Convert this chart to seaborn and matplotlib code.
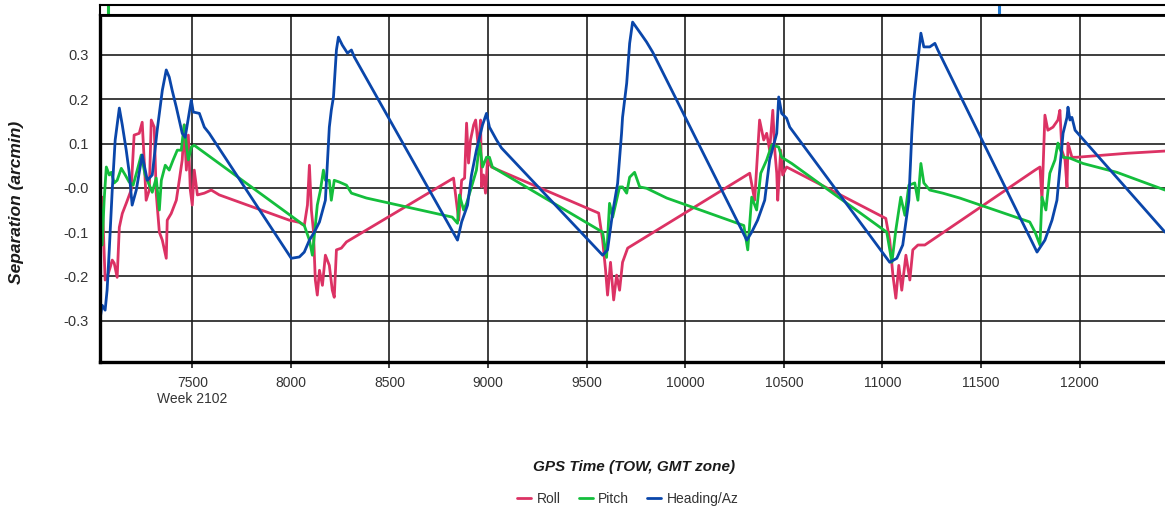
import matplotlib
matplotlib.use('Agg')
import matplotlib.pyplot as plt
import pandas as pd
import seaborn as sns

# values (GPS time of week vs separation in arcmin)
roll_tow = [7028, 7033, 7043, 7058, 7068, 7084, 7094, 7104, 7119, 7130,
            7145, 7165, 7190, 7205, 7231, 7246, 7256, 7266, 7282, 7292,
            7307, 7317, 7333, 7348, 7368, 7373, 7393, 7419, 7434, 7449,
            7459, 7470, 7480, 7490, 7500, 7510, 7526, 7561, 7596, 7637,
            7992,
            8043, 8068, 8084, 8094, 8104, 8114, 8124, 8134, 8145, 8160,
            8175, 8195, 8210, 8220, 8231, 8256, 8282,
            8825, 8851, 8866, 8881, 8891, 8901, 8911, 8927, 8937, 8952,
            8962, 8967, 8977, 8987, 8997, 9017, 9053, 9561,
            9581, 9596, 9606, 9621, 9637, 9652, 9667, 9682, 9708,
            10327, 10352, 10377, 10398, 10413, 10428, 10444, 10454, 10464, 10469,
            10484, 10494, 10514, 11017,
            11037, 11053, 11068, 11083, 11098, 11119, 11139, 11154, 11180, 11215,
            11774, 11799, 11809, 11824, 11839, 11865, 11890, 11900, 11910, 11926,
            11936, 11941, 11961, 11987, 12241, 12433]
roll_sep = [0.085, -0.028, -0.021, -0.208, -0.202, -0.179, -0.163, -0.170, -0.202, -0.089,
            -0.058, -0.035, -0.005, 0.119, 0.123, 0.148, 0.063, -0.028, -0.005, 0.153,
            0.137, -0.012, -0.100, -0.118, -0.159, -0.073, -0.058, -0.028, 0.017, 0.063,
            0.142, 0.040, 0.119, -0.005, -0.039, 0.040, -0.016, -0.012, -0.005, -0.016,
            -0.073,
            -0.078, -0.085, -0.039, 0.051, -0.050, -0.095, -0.208, -0.242, -0.186, -0.220,
            -0.152, -0.175, -0.231, -0.247, -0.140, -0.136, -0.122,
            0.022, -0.073, 0.017, 0.022, 0.146, 0.056, 0.108, 0.142, 0.153, 0.085,
            0.153, 0.002, 0.029, -0.012, 0.063, 0.047, 0.040, -0.057,
            -0.118, -0.186, -0.242, -0.168, -0.253, -0.197, -0.231, -0.168, -0.136,
            0.033, -0.028, 0.153, 0.108, 0.123, 0.085, 0.175, 0.085, 0.033, -0.028,
            0.085, 0.029, 0.047, -0.069,
            -0.118, -0.197, -0.249, -0.175, -0.231, -0.152, -0.208, -0.140, -0.129, -0.129,
            0.040, 0.047, -0.028, 0.164, 0.130, 0.137, 0.153, 0.175, 0.085, 0.063,
            0.002, 0.101, 0.069, 0.069, 0.078, 0.083]

pitch_tow = [7028, 7033, 7043, 7053, 7064, 7079, 7089, 7104, 7119, 7140,
             7160, 7180, 7200, 7221, 7241, 7261, 7282, 7297, 7317, 7333,
             7343, 7363, 7383, 7403, 7424, 7444, 7459, 7470, 7480, 7495,
             7510,
             8068, 8094, 8109, 8124, 8134, 8150, 8165, 8175, 8195, 8205,
             8220, 8246, 8282, 8307, 8383,
             8818, 8845, 8855, 8876, 8891, 8916, 8941, 8957, 8972, 8992,
             9007, 9022,
             9581, 9601, 9616, 9632, 9667, 9682, 9703, 9718, 9743, 9769,
             9804, 9906,
             10297, 10317, 10337, 10362, 10383, 10413, 10439, 10474, 10489, 10540,
             11022, 11048, 11068, 11093, 11114, 11134, 11164, 11180, 11195, 11210,
             11240, 11306, 11392,
             11747, 11774, 11799, 11809, 11829, 11849, 11875, 11890, 11916, 11951,
             12017, 12189, 12433]
pitch_sep = [-0.197, -0.005, -0.129, -0.028, 0.047, 0.029, 0.035, 0.011, 0.017, 0.044,
             0.029, 0.013, 0.006, 0.040, 0.074, 0.029, 0.006, -0.010, 0.022, -0.050,
             0.017, 0.051, 0.040, 0.063, 0.085, 0.085, 0.142, 0.096, 0.063, 0.092,
             0.096,
             -0.085, -0.118, -0.152, -0.085, -0.039, -0.005, 0.040, 0.017, 0.017, -0.028,
             0.017, 0.013, 0.006, -0.012, -0.023,
             -0.066, -0.080, -0.016, -0.050, -0.035, 0.002, 0.040, 0.101, 0.047, 0.069,
             0.069, 0.047,
             -0.100, -0.157, -0.035, -0.066, 0.002, 0.002, -0.012, 0.024, 0.035, 0.002,
             -0.001, -0.023,
             -0.085, -0.140, -0.021, -0.050, 0.033, 0.063, 0.097, 0.092, 0.069, 0.055,
             -0.100, -0.168, -0.095, -0.021, -0.062, 0.006, 0.011, -0.028, 0.055, 0.011,
             -0.005, -0.012, -0.023,
             -0.077, -0.100, -0.129, -0.021, -0.050, 0.033, 0.063, 0.101, 0.069, 0.067,
             0.055, 0.035, -0.005]

heading_tow = [7028, 7033, 7043, 7058, 7068, 7079, 7094, 7109, 7130, 7145,
               7165, 7180, 7195, 7216, 7246, 7272, 7297, 7322, 7348, 7368,
               7383, 7398, 7419, 7449, 7464, 7495, 7505, 7536, 7561, 7586,
               8002, 8043, 8068, 8094, 8119, 8145, 8175, 8195, 8205, 8216,
               8231, 8241, 8261, 8287, 8307, 8322,
               8845, 8866, 8896, 8916, 8941, 8972, 8992, 9007, 9043, 9068,
               9581, 9606, 9632, 9657, 9677, 9682, 9703, 9718, 9733, 9779,
               9804, 9835,
               10312, 10337, 10367, 10403, 10428, 10464, 10474, 10489, 10514, 10530,
               11037, 11073, 11103, 11134, 11149, 11159, 11180, 11195, 11210, 11240,
               11266, 11281,
               11784, 11824, 11860, 11885, 11916, 11936, 11941, 11951, 11961, 11977,
               12433]
heading_sep = [-0.382, -0.294, -0.265, -0.276, -0.231, -0.140, -0.005, 0.108, 0.180, 0.142,
               0.085, 0.035, -0.039, -0.005, 0.074, 0.017, 0.029, 0.130, 0.220, 0.266,
               0.250, 0.220, 0.182, 0.123, 0.114, 0.198, 0.171, 0.168, 0.137, 0.123,
               -0.159, -0.156, -0.145, -0.118, -0.100, -0.077, -0.028, 0.137, 0.175, 0.205,
               0.311, 0.340, 0.322, 0.304, 0.311, 0.295,
               -0.118, -0.077, -0.039, 0.029, 0.085, 0.142, 0.168, 0.137, 0.108, 0.090,
               -0.152, -0.140, -0.055, 0.010, 0.123, 0.159, 0.236, 0.326, 0.374, 0.345,
               0.329, 0.306,
               -0.118, -0.100, -0.073, -0.028, 0.063, 0.123, 0.205, 0.168, 0.157, 0.137,
               -0.168, -0.159, -0.129, -0.028, 0.123, 0.198, 0.288, 0.349, 0.318, 0.318,
               0.326, 0.311,
               -0.145, -0.118, -0.073, -0.028, 0.123, 0.159, 0.182, 0.153, 0.159, 0.130,
               -0.100]

series_names = ['Roll', 'Pitch', 'Heading/Az']
series_colors = ['#DC3264', '#14BE3C', '#0A46AA']

x_ticks = [7500, 8000, 8500, 9000, 9500, 10000, 10500, 11000, 11500, 12000]
x_tick_labels = ['7500\nWeek 2102', '8000', '8500', '9000', '9500', '10000',
                 '10500', '11000', '11500', '12000']
y_ticks = [0.3, 0.2, 0.1, 0.0, -0.1, -0.2, -0.3]
y_tick_labels = ['0.3', '0.2', '0.1', '-0.0', '-0.1', '-0.2', '-0.3']

# cursor marks in the overview strip above the plot
cursor_tow = [7071, 11592]
cursor_colors = ['#14BE3C', '#1E78D2']

frames = []
for name, tow, sep in zip(series_names,
                          [roll_tow, pitch_tow, heading_tow],
                          [roll_sep, pitch_sep, heading_sep]):
    frames.append(pd.DataFrame({'tow': tow, 'sep': sep, 'series': name}))
df = pd.concat(frames, ignore_index=True)

sns.set_theme(style='white')
plt.rcParams['font.family'] = ['Liberation Sans', 'DejaVu Sans']

W, H = 1165, 512
fig = plt.figure(figsize=(W / 100, H / 100), dpi=100)
ax = fig.add_axes([100 / W, 1 - 362 / H, 1065 / W, 347 / H])
strip = fig.add_axes([100 / W, 1 - 15 / H, 1065 / W, 10 / H])

sns.lineplot(data=df, x='tow', y='sep', hue='series', hue_order=series_names,
             palette=dict(zip(series_names, series_colors)), estimator=None,
             sort=False, lw=2, ax=ax)

ax.set_xlim(7032, 12433)
ax.set_ylim(-0.393, 0.39)
ax.set_xticks(x_ticks, labels=x_tick_labels)
ax.set_yticks(y_ticks, labels=y_tick_labels)
ax.set_axisbelow(True)
ax.grid(True, color='#1e1e1e', lw=1.2)
ax.tick_params(axis='x', bottom=True, length=4, width=1.2, color='#1e1e1e',
               pad=6, labelsize=10, labelcolor='#333333')
ax.tick_params(axis='y', left=False, length=0, pad=8, labelsize=10.5,
               labelcolor='#333333')
for side in ['left', 'bottom']:
    ax.spines[side].set_linewidth(2.4)
    ax.spines[side].set_color('black')
ax.spines['top'].set_linewidth(2.0)
ax.spines['top'].set_color('black')
ax.spines['right'].set_visible(False)
ax.set_xlabel('')
ax.set_ylabel('')

handles, labels = ax.get_legend_handles_labels()
ax.get_legend().remove()
fig.legend(handles, labels, loc='center', bbox_to_anchor=(0.539, 0.026), ncol=3,
           frameon=False, handlelength=1.0, handletextpad=0.4, columnspacing=1.3,
           fontsize=10, labelcolor='#333333')

fig.text(0.544, 0.088, 'GPS Time (TOW, GMT zone)', ha='center', va='center',
         fontsize=11, fontweight='bold', fontstyle='italic', color='#1a1a1a')
fig.text(17 / W, 1 - 202 / H, 'Separation (arcmin)', ha='center', va='center',
         rotation=90, fontsize=12.5, fontweight='bold', fontstyle='italic',
         color='#1a1a1a')

strip.set_xlim(7032, 12433)
strip.set_ylim(0, 1)
strip.set_xticks([])
strip.set_yticks([])
for side in strip.spines:
    strip.spines[side].set_linewidth(1.5)
    strip.spines[side].set_color('black')
strip.spines['right'].set_visible(False)
for t, c in zip(cursor_tow, cursor_colors):
    strip.axvline(t, ymin=0.0, ymax=1.0, color=c, lw=2.2)

fig.savefig('out.png', dpi=100)
